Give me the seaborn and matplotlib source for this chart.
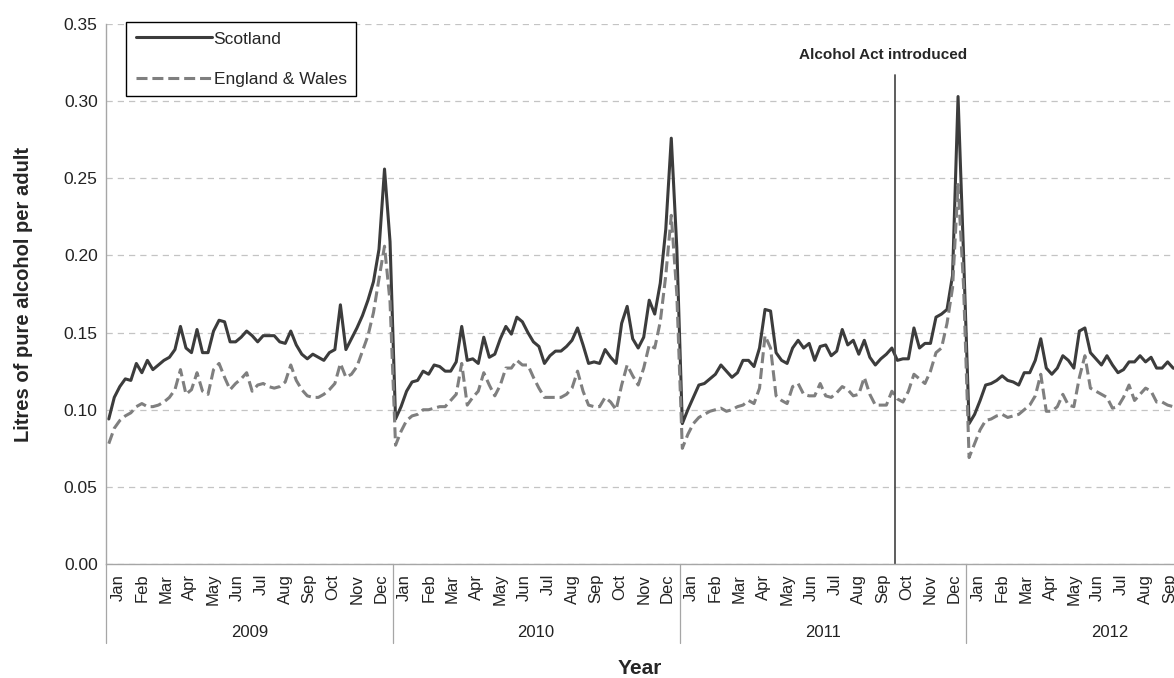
import matplotlib
matplotlib.use("Agg")
import matplotlib.pyplot as plt
import numpy as np
import pandas as pd
import seaborn as sns

# weekly litres of pure alcohol per adult
years = [2009, 2010, 2011, 2012]
months = ['Jan', 'Feb', 'Mar', 'Apr', 'May', 'Jun',
          'Jul', 'Aug', 'Sep', 'Oct', 'Nov', 'Dec']

scotland = {
    2009: [0.094, 0.108, 0.115, 0.120, 0.119, 0.130, 0.124, 0.132, 0.126, 0.129,
           0.132, 0.134, 0.139, 0.154, 0.140, 0.137, 0.152, 0.137, 0.137, 0.151,
           0.158, 0.157, 0.144, 0.144, 0.147, 0.151, 0.148, 0.144, 0.148, 0.148,
           0.148, 0.144, 0.143, 0.151, 0.142, 0.136, 0.133, 0.136, 0.134, 0.132,
           0.137, 0.139, 0.168, 0.139, 0.146, 0.153, 0.161, 0.171, 0.183, 0.204,
           0.256, 0.209],
    2010: [0.094, 0.102, 0.112, 0.118, 0.119, 0.125, 0.123, 0.129, 0.128, 0.125,
           0.125, 0.131, 0.154, 0.132, 0.133, 0.130, 0.147, 0.134, 0.136, 0.146,
           0.154, 0.149, 0.160, 0.157, 0.150, 0.144, 0.141, 0.130, 0.135, 0.138,
           0.138, 0.141, 0.145, 0.153, 0.142, 0.130, 0.131, 0.130, 0.139, 0.134,
           0.130, 0.156, 0.167, 0.146, 0.140, 0.147, 0.171, 0.162, 0.182, 0.217,
           0.276, 0.205],
    2011: [0.091, 0.100, 0.108, 0.116, 0.117, 0.120, 0.123, 0.129, 0.125, 0.121,
           0.124, 0.132, 0.132, 0.128, 0.140, 0.165, 0.164, 0.137, 0.132, 0.130,
           0.140, 0.145, 0.140, 0.143, 0.132, 0.141, 0.142, 0.135, 0.138, 0.152,
           0.142, 0.145, 0.136, 0.145, 0.134, 0.129, 0.133, 0.136, 0.140, 0.132,
           0.133, 0.133, 0.153, 0.140, 0.143, 0.143, 0.160, 0.162, 0.165, 0.187,
           0.303, 0.200],
    2012: [0.091, 0.097, 0.106, 0.116, 0.117, 0.119, 0.122, 0.119, 0.118, 0.116,
           0.124, 0.124, 0.132, 0.146, 0.127, 0.123, 0.127, 0.135, 0.132, 0.127,
           0.151, 0.153, 0.137, 0.133, 0.129, 0.135, 0.129, 0.124, 0.126, 0.131,
           0.131, 0.135, 0.131, 0.134, 0.127, 0.127, 0.131, 0.127, 0.126],
}

england_wales = {
    2009: [0.078, 0.088, 0.093, 0.096, 0.098, 0.102, 0.104, 0.102, 0.102, 0.103,
           0.105, 0.108, 0.113, 0.126, 0.110, 0.113, 0.124, 0.112, 0.110, 0.126,
           0.130, 0.121, 0.113, 0.117, 0.120, 0.124, 0.112, 0.116, 0.117, 0.115,
           0.114, 0.115, 0.118, 0.129, 0.119, 0.113, 0.109, 0.108, 0.108, 0.110,
           0.113, 0.117, 0.130, 0.121, 0.123, 0.128, 0.138, 0.148, 0.163, 0.185,
           0.206, 0.170],
    2010: [0.077, 0.086, 0.093, 0.096, 0.097, 0.100, 0.100, 0.101, 0.102, 0.102,
           0.106, 0.110, 0.130, 0.103, 0.108, 0.112, 0.124, 0.116, 0.109, 0.116,
           0.127, 0.127, 0.132, 0.129, 0.129, 0.121, 0.114, 0.108, 0.108, 0.108,
           0.108, 0.110, 0.114, 0.125, 0.112, 0.103, 0.102, 0.102, 0.108, 0.105,
           0.100, 0.116, 0.129, 0.122, 0.116, 0.127, 0.142, 0.140, 0.157, 0.187,
           0.226, 0.175],
    2011: [0.075, 0.084, 0.091, 0.095, 0.097, 0.099, 0.100, 0.101, 0.099, 0.100,
           0.102, 0.103, 0.106, 0.104, 0.114, 0.148, 0.140, 0.109, 0.106, 0.104,
           0.115, 0.117, 0.110, 0.109, 0.109, 0.117, 0.109, 0.108, 0.111, 0.115,
           0.113, 0.109, 0.110, 0.121, 0.110, 0.103, 0.103, 0.103, 0.112, 0.107,
           0.105, 0.112, 0.123, 0.120, 0.117, 0.125, 0.137, 0.140, 0.156, 0.179,
           0.246, 0.180],
    2012: [0.069, 0.078, 0.087, 0.093, 0.094, 0.096, 0.097, 0.095, 0.096, 0.097,
           0.100, 0.103, 0.109, 0.123, 0.099, 0.099, 0.102, 0.110, 0.103, 0.102,
           0.121, 0.135, 0.114, 0.112, 0.110, 0.108, 0.101, 0.102, 0.108, 0.116,
           0.106, 0.110, 0.114, 0.112, 0.105, 0.105, 0.103, 0.102, 0.102],
}

act_month = 33  # end of Sep 2011

rows = []
for region, series in [('Scotland', scotland), ('England & Wales', england_wales)]:
    for yr in years:
        for wk, val in enumerate(series[yr]):
            # position in months since Jan 2009, weeks centred
            rows.append({'region': region,
                         'month_pos': (yr - years[0]) * 12 + (wk + 0.5) * 12 / 52,
                         'litres': val})
df = pd.DataFrame(rows)

sns.set_style('white')
plt.rcParams['font.family'] = ['Liberation Sans', 'DejaVu Sans']

fig = plt.figure(figsize=(11.74, 6.78), dpi=100)
ax = fig.add_axes([0.0903, 0.1681, 0.9097, 0.7965])

sns.lineplot(data=df, x='month_pos', y='litres', hue='region', style='region',
             hue_order=['Scotland', 'England & Wales'],
             palette={'Scotland': '#3c3c3c', 'England & Wales': '#7f7f7f'},
             dashes={'Scotland': '', 'England & Wales': (3.6, 1.6)},
             linewidth=2.2, estimator=None, ax=ax)

axis_col = '#a6a6a6'
ax.set_ylim(0, 0.35)
ax.set_xlim(0, 44.69)
ax.set_yticks(np.arange(0, 0.351, 0.05))
ax.set_yticklabels([f'{v:.2f}' for v in np.arange(0, 0.351, 0.05)], fontsize=12.5)
ax.yaxis.grid(True, color='#c4c4c4', linestyle=(0, (5, 4)), linewidth=0.9)
ax.xaxis.grid(False)
ax.tick_params(axis='y', length=0, pad=6, colors='#222222')

for s in ['top', 'right']:
    ax.spines[s].set_visible(False)
for s in ['left', 'bottom']:
    ax.spines[s].set_color(axis_col)
    ax.spines[s].set_linewidth(1.0)

# month separators (major) and month names (minor)
n_months = 45
edges = np.arange(0, n_months)
ax.set_xticks(edges)
ax.set_xticklabels([])
ax.tick_params(axis='x', which='major', length=40, width=0.9, color=axis_col)
ax.set_xticks(edges + 0.5, minor=True)
ax.set_xticklabels((months * 4)[:n_months], minor=True, rotation=90,
                   fontsize=12, color='#222222')
ax.tick_params(axis='x', which='minor', length=0, pad=7)

# year separators and labels
trans = ax.get_xaxis_transform()
for i, yr in enumerate(years):
    ax.plot([i * 12, i * 12], [0, -0.146], transform=trans, clip_on=False,
            color=axis_col, linewidth=0.9)
    ax.text(i * 12 + 6, -0.126, str(yr), transform=trans, ha='center',
            va='center', fontsize=12, color='#222222')

ax.set_xlabel('Year', fontsize=15, fontweight='bold')
ax.xaxis.set_label_coords(0.5, -0.176)
ax.set_ylabel('Litres of pure alcohol per adult', fontsize=14.5, fontweight='bold')
ax.yaxis.set_label_coords(-0.068, 0.5)

# policy marker
ax.axvline(act_month, ymin=0, ymax=0.905, color='#505050', linewidth=1.3)
ax.text(act_month - 0.5, 0.33, 'Alcohol Act introduced', ha='center',
        va='center', fontsize=11, fontweight='bold')

leg = ax.legend(loc='upper left', bbox_to_anchor=(0.0187, 1.004),
                borderaxespad=0, frameon=True, fancybox=False, framealpha=1,
                edgecolor='black', fontsize=12.5, handlelength=4.4,
                handletextpad=0.1, labelspacing=1.45, borderpad=0.55)
leg.get_frame().set_linewidth(1.0)

fig.savefig('out.png', dpi=100)
